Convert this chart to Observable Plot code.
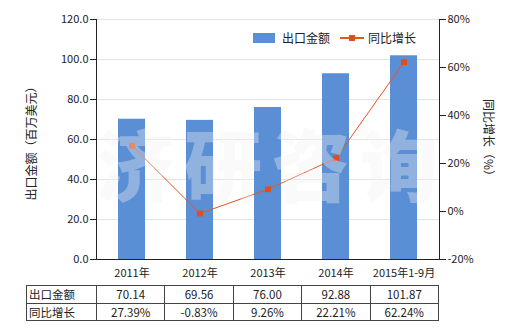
<!DOCTYPE html>
<html>
<head>
<meta charset="utf-8">
<script src="https://cdn.jsdelivr.net/npm/d3@7"></script>
<script src="https://cdn.jsdelivr.net/npm/@observablehq/plot@0.6"></script>
<style>
  html, body { margin: 0; padding: 0; background: #fff; }
  #wrap { position: relative; width: 520px; height: 330px; overflow: hidden;
          font-family: "Noto Sans CJK SC", "Noto Sans", sans-serif; color: #222; }
  #chart { position: absolute; left: 0; top: 0; }
  .ytitle { position: absolute; font-size: 12px; white-space: nowrap; transform-origin: center center; }
  #legend { position: absolute; left: 0; top: 0; font-size: 12px; }
  #legend .sw { position: absolute; }
  #legend .lb { position: absolute; white-space: nowrap; line-height: 14px; }
  #tbl { position: absolute; left: 26px; top: 285px; border-collapse: collapse; font-size: 11.5px; table-layout: fixed; }
  #tbl td { border: 1px solid #444; height: 16.5px; padding: 0; text-align: center; line-height: 16px; }
  #tbl td.h { text-align: left; padding-left: 2px; }
  #wm { position: absolute; left: 96px; top: 112px; width: 360px; font-size: 78px; font-weight: 900;
        letter-spacing: 10px; color: rgba(240,240,240,0.36); white-space: nowrap; pointer-events: none; line-height: 100px; }
</style>
</head>
<body>
<div id="wrap">
  <div id="chart"></div>
  <div class="ytitle" id="lt">出口金额（百万美元）</div>
  <div class="ytitle" id="rt">同比增长（%）</div>
  <div id="legend"></div>
  <div id="wm">济研咨询</div>
</div>
<script>
const categories = ["2011年", "2012年", "2013年", "2014年", "2015年1-9月"];
const amounts = [70.14, 69.56, 76.00, 92.88, 101.87];
const growth = [27.39, -0.83, 9.26, 22.21, 62.24];
const amountLabels = ["70.14", "69.56", "76.00", "92.88", "101.87"];
const growthLabels = ["27.39%", "-0.83%", "9.26%", "22.21%", "62.24%"];
const leftTicks = [0, 20, 40, 60, 80, 100, 120];
const rightTicks = [-20, 0, 20, 40, 60, 80];
const seriesNames = ["出口金额", "同比增长"];

const barColor = "#5B8FD5";
const lineColor = "#E8541F";

// map right-axis percent to left-axis value space
const toLeft = p => (p + 20) * 1.2;
const data = categories.map((c, i) => ({cat: c, amount: amounts[i], growth: growth[i]}));

const chart = Plot.plot({
  width: 520, height: 280,
  marginLeft: 96, marginRight: 81, marginTop: 19, marginBottom: 21,
  style: {fontFamily: '"Noto Sans CJK SC", "Noto Sans", sans-serif', fontSize: "11px", color: "#222", background: "transparent", overflow: "visible"},
  x: {domain: categories, paddingInner: 0.6, paddingOuter: 0.3, label: null},
  y: {domain: [0, 120], label: null},
  marks: [
    Plot.ruleY(leftTicks.slice(1), {stroke: "#e3e3e3"}),
    Plot.barY(data, {x: "cat", y: "amount", fill: barColor}),
    Plot.frame({anchor: "left", stroke: "#222"}),
    Plot.frame({anchor: "right", stroke: "#222"}),
    Plot.frame({anchor: "bottom", stroke: "#222"}),
    Plot.line(data, {x: "cat", y: d => toLeft(d.growth), stroke: lineColor, strokeWidth: 1}),
    Plot.dot(data, {x: "cat", y: d => toLeft(d.growth), symbol: "square", r: 3.3, fill: "#E04E1B", stroke: "none"}),
    Plot.axisY(leftTicks, {anchor: "left", tickFormat: d => d.toFixed(1), tickSize: 6, tickPadding: 2, label: null}),
    Plot.axisY(rightTicks.map(toLeft), {anchor: "right", tickFormat: v => Math.round(v / 1.2 - 20) + "%", tickSize: 6, tickPadding: 2, label: null}),
    Plot.axisX({tickSize: 0, tickPadding: 10, label: null, fontSize: "11px"})
  ]
});
document.getElementById("chart").appendChild(chart);

// axis titles
const lt = document.getElementById("lt");
lt.style.left = (30 - 60) + "px"; lt.style.width = "120px"; lt.style.textAlign = "center";
lt.style.top = (140 - 8) + "px"; lt.style.transform = "rotate(-90deg)";
const rt = document.getElementById("rt");
rt.style.left = (489 - 60) + "px"; rt.style.width = "120px"; rt.style.textAlign = "center";
rt.style.top = (140 - 8) + "px"; rt.style.transform = "rotate(90deg)";

// legend
const lg = document.getElementById("legend");
lg.innerHTML = `
  <div class="sw" style="left:253px;top:33px;width:22px;height:10px;background:${barColor}"></div>
  <div class="lb" style="left:282px;top:31px">${seriesNames[0]}</div>
  <div class="sw" style="left:340px;top:37px;width:24px;height:2px;background:${lineColor}"></div>
  <div class="sw" style="left:349px;top:35px;width:6px;height:6px;background:#E04E1B"></div>
  <div class="lb" style="left:368px;top:31px">${seriesNames[1]}</div>`;

// data table
const tbl = document.createElement("table");
tbl.id = "tbl";
const colg = document.createElement("colgroup");
colg.innerHTML = `<col style="width:70px">` + categories.map(() => `<col style="width:68.4px">`).join("");
tbl.appendChild(colg);
[[seriesNames[0], amountLabels], [seriesNames[1], growthLabels]].forEach(([name, vals]) => {
  const tr = document.createElement("tr");
  tr.innerHTML = `<td class="h">${name}</td>` + vals.map(v => `<td>${v}</td>`).join("");
  tbl.appendChild(tr);
});
document.getElementById("wrap").appendChild(tbl);
</script>
</body>
</html>
